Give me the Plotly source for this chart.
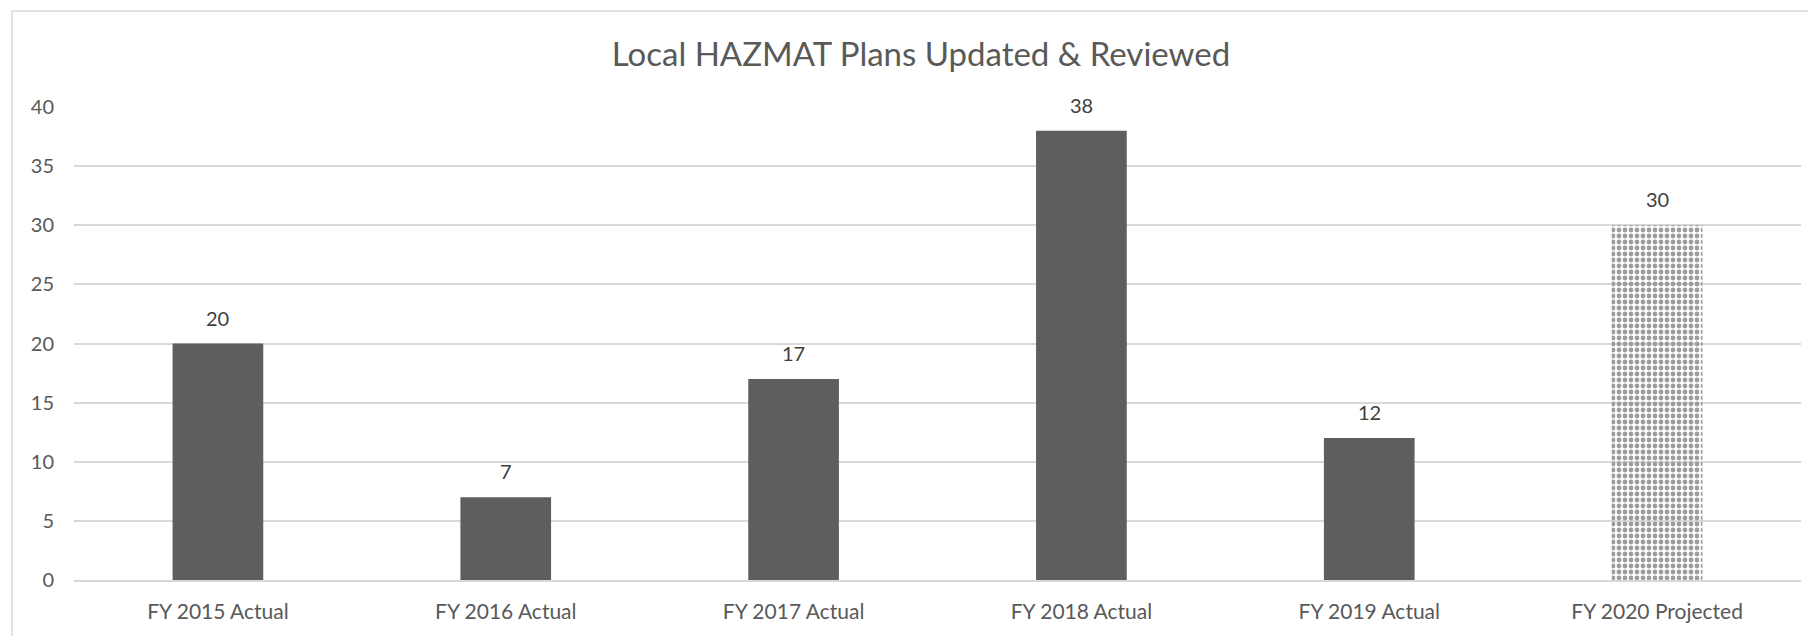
import plotly.graph_objects as go

categories = ["FY 2015 Actual", "FY 2016 Actual", "FY 2017 Actual",
              "FY 2018 Actual", "FY 2019 Actual", "FY 2020 Projected"]
values = [20, 7, 17, 38, 12, 30]
y_ticks = [0, 5, 10, 15, 20, 25, 30, 35, 40]
title_text = "Local HAZMAT Plans Updated & Reviewed"

FONT = "Lato"
TXT = "#595959"
GRID = "#d9d9d9"

W, H = 1808, 628
L, R, T, B = 66, 15, 99, 56
PW = W - L - R
PH = H - T - B

bar_colors = ["#5e5e5e"] * 5 + ["#9c9c9c"]
shapes_pat = [""] * 5 + ["."]

fig = go.Figure()
fig.add_trace(go.Bar(
    x=categories, y=values,
    marker=dict(
        color=bar_colors,
        line=dict(width=0),
        pattern=dict(shape=shapes_pat, fgcolor="#565656", bgcolor="#a9a9a9",
                     size=6, solidity=0.5, fillmode="replace"),
    ),
    width=0.315,
    hoverinfo="x+y",
))

for c, v in zip(categories, values):
    fig.add_annotation(x=c, y=v, text=str(v), showarrow=False,
                       yanchor="bottom", yshift=12,
                       font=dict(family=FONT, size=20, color="#404040"))

fig.update_layout(
    width=W, height=H,
    margin=dict(l=L, r=R, t=T, b=B),
    paper_bgcolor="white", plot_bgcolor="white",
    showlegend=False,
    title=dict(text=title_text, x=913 / W, xref="container", xanchor="center",
               y=1 - 46 / H, yref="container", yanchor="middle",
               font=dict(family=FONT, size=33, color=TXT)),
    font=dict(family=FONT, color=TXT),
    xaxis=dict(showgrid=False, showline=True, linecolor=GRID, linewidth=1.5,
               ticks="", tickfont=dict(family=FONT, size=21, color=TXT),
               ticklabelstandoff=12),
    yaxis=dict(range=[0, 40], tickvals=y_ticks, showgrid=True, gridcolor=GRID,
               gridwidth=1.5, zeroline=False, showline=False, ticks="",
               tickfont=dict(family=FONT, size=20, color=TXT),
               ticklabelstandoff=19),
    shapes=[dict(type="rect", xref="paper", yref="paper",
                 x0=(4 - L) / PW, x1=(W + 20 - L) / PW,
                 y0=-(B + 20) / PH, y1=(PH + T - 3) / PH,
                 line=dict(color=GRID, width=1.5), fillcolor="rgba(0,0,0,0)",
                 layer="below")],
)

fig.write_html("out.html")
